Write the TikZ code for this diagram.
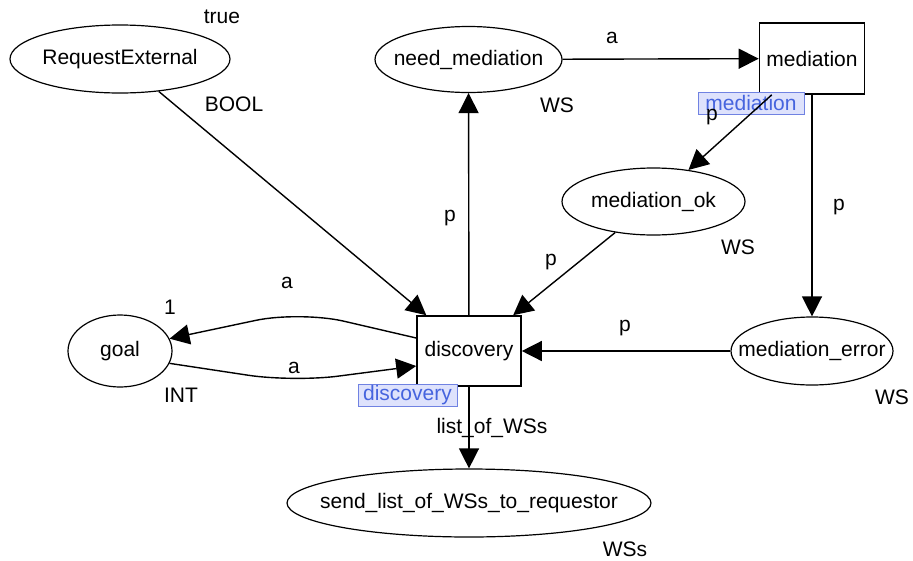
\documentclass[tikz,border=0pt]{standalone}
\usepackage{fontspec}
\setmainfont{Liberation Sans}
\usetikzlibrary{shapes.geometric,arrows.meta}
\definecolor{tagfill}{RGB}{222,226,252}
\definecolor{tagdraw}{RGB}{112,130,226}
\definecolor{tagtext}{RGB}{70,100,222}
\def\ArrowLen{20pt}
\def\ArrowWid{20pt}
% place names may run past the inscribed box of the ellipse
\newcommand{\PlaceName}[1]{\makebox[0pt]{#1}}
\tikzset{
  place/.style={ellipse, draw, line width=1.2pt, inner sep=0pt},
  transition/.style={rectangle, draw, line width=1.6pt, inner sep=0pt},
  arc/.style={line width=1.4pt, -{Triangle[length=\ArrowLen,width=\ArrowWid]}},
  tag/.style={rectangle, draw=tagdraw, fill=tagfill, text=tagtext, line width=1pt, inner sep=0pt}
}

\begin{document}
\begin{tikzpicture}[x=1pt,y=-1pt,font=\fontsize{21}{25}\selectfont]
  \useasboundingbox (0,0) rectangle (913,560);
  % places
  \node[place, minimum width=220pt, minimum height=68pt] (RequestExternal) at (120,59) {\PlaceName{RequestExternal}};
  \node[place, minimum width=187pt, minimum height=66pt] (need_mediation) at (468.5,59.5) {\PlaceName{need\_mediation}};
  \node[place, minimum width=183pt, minimum height=67pt] (mediation_ok) at (653.5,201.5) {\PlaceName{mediation\_ok}};
  \node[place, minimum width=162pt, minimum height=68pt] (mediation_error) at (812,351) {\PlaceName{mediation\_error}};
  \node[place, minimum width=104pt, minimum height=72pt] (goal) at (120,351) {\PlaceName{goal}};
  \node[place, minimum width=364pt, minimum height=68pt] (send_list) at (469,503) {\PlaceName{send\_list\_of\_WSs\_to\_requestor}};
  % transitions
  \node[transition, minimum width=105pt, minimum height=71pt] (mediation) at (812,58.5) {mediation};
  \node[transition, minimum width=104pt, minimum height=70pt] (discovery) at (469,351) {discovery};
  \node[tag, minimum width=106pt, minimum height=22pt] (mediation_tag) at (751,103) {mediation};
  \node[tag, minimum width=99pt, minimum height=22pt] (discovery_tag) at (407.5,395) {discovery};
  % place types and initial markings
  \node (true_mark) at (222,17) {true};
  \node (bool_type) at (234,104) {BOOL};
  \node (ws_need) at (557,105) {WS};
  \node (ws_ok) at (738,247) {WS};
  \node (ws_error) at (892,397) {WS};
  \node (one_mark) at (170,307) {1};
  \node (int_type) at (181,395) {INT};
  \node (wss_type) at (625,549) {WSs};
  % arcs
  \coordinate (goalUp) at (300,311);
  \coordinate (goalDown) at (293,382);
  \draw[arc] (RequestExternal) -- (discovery);
  \draw[arc] (discovery) -- (need_mediation);
  \draw[arc] (need_mediation) -- (mediation);
  \draw[arc] (mediation) -- (mediation_ok);
  \draw[arc] (mediation) -- (mediation_error);
  \draw[arc] (mediation_ok) -- (discovery);
  \draw[arc] (mediation_error) -- (discovery);
  \draw[arc] (discovery) -- (send_list);
  \draw[arc, rounded corners=45pt] ([yshift=13pt]discovery.west) -- (goalUp) -- (goal.14);
  \draw[arc, rounded corners=45pt] (goal.-14) -- (goalDown) -- ([yshift=-15pt]discovery.west);
  % arc inscriptions
  \node (a_need) at (612,38) {a};
  \node (p_ok) at (712,117) {p};
  \node (p_error) at (839,207) {p};
  \node (p_need) at (450,218) {p};
  \node (p_okdisc) at (551,262) {p};
  \node (p_errdisc) at (625,328) {p};
  \node (a_up) at (287,283) {a};
  \node (a_down) at (294,368) {a};
  \node (list_wss) at (492,428) {list\_of\_WSs};
\end{tikzpicture}
\end{document}
